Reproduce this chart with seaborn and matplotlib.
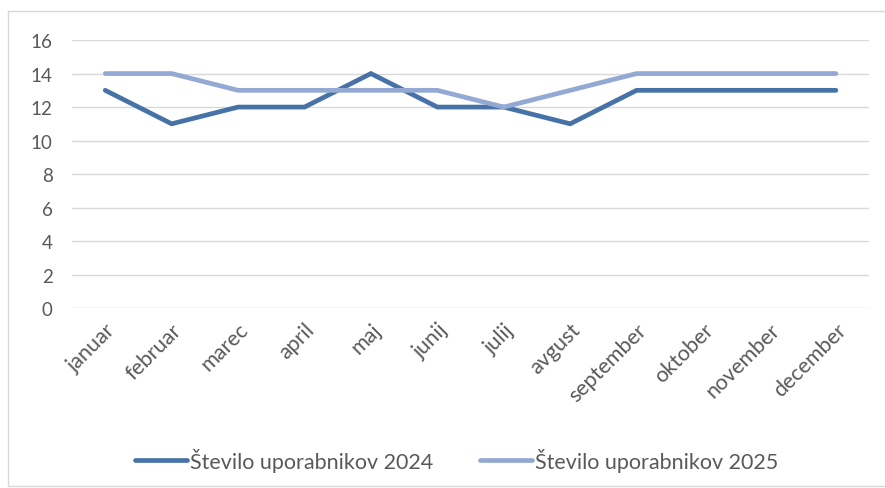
import pandas as pd
import matplotlib
matplotlib.use("Agg")
import matplotlib.pyplot as plt
import seaborn as sns
from matplotlib.patches import Rectangle

# podatki
meseci = ['januar', 'februar', 'marec', 'april', 'maj', 'junij', 'julij',
          'avgust', 'september', 'oktober', 'november', 'december']
uporabniki_2024 = [13, 11, 12, 12, 14, 12, 12, 11, 13, 13, 13, 13]
uporabniki_2025 = [14, 14, 13, 13, 13, 13, 12, 13, 14, 14, 14, 14]
serije = ['Število uporabnikov 2024', 'Število uporabnikov 2025']

df = pd.DataFrame({
    'mesec': meseci * 2,
    'x': list(range(len(meseci))) * 2,
    'vrednost': uporabniki_2024 + uporabniki_2025,
    'serija': [serije[0]] * len(meseci) + [serije[1]] * len(meseci),
})

sns.set_theme(style="white")
plt.rcParams['font.family'] = ['Lato', 'DejaVu Sans']
text_col = '#595959'

fig = plt.figure(figsize=(8.85, 4.89), dpi=100)
ax = fig.add_axes([0.0814, 0.368, 0.9006, 0.548])

barve = {serije[0]: '#4672A8', serije[1]: '#93A9D3'}
sns.lineplot(data=df, x='x', y='vrednost', hue='serija', palette=barve,
             linewidth=3.4, ax=ax, legend=True, solid_capstyle='round',
             solid_joinstyle='miter')

ax.set_xlim(-0.5, len(meseci) - 0.5)
ax.set_ylim(0, 16)
ax.set_yticks(range(0, 17, 2))
ax.set_xticks(range(len(meseci)))
ax.set_xticklabels(meseci, rotation=45, ha='right', va='top',
                   rotation_mode='anchor')
ax.tick_params(axis='y', length=0, labelsize=13.5, colors=text_col, pad=14)
ax.tick_params(axis='x', length=0, labelsize=15.5, colors=text_col, pad=8)
ax.yaxis.grid(True, color='#D9D9D9', linewidth=1.0)
ax.set_axisbelow(True)
ax.set_xlabel('')
ax.set_ylabel('')
for s in ax.spines.values():
    s.set_visible(False)

handles, labels = ax.get_legend_handles_labels()
ax.get_legend().remove()
leg = fig.legend(handles, labels, loc='center', bbox_to_anchor=(0.516, 0.058),
                 ncol=2, frameon=False, fontsize=15.5, handlelength=2.4,
                 handletextpad=0.15, columnspacing=2.2, labelcolor=text_col)
for h in leg.get_lines():
    h.set_linewidth(3.4)
    h.set_solid_capstyle('round')

# okvir grafikona
fig.patches.append(Rectangle((8 / 885, 2 / 489), 1.0, 475 / 489,
                             transform=fig.transFigure, fill=False,
                             edgecolor='#D9D9D9', linewidth=1.0))

fig.savefig('out.png', dpi=100)
